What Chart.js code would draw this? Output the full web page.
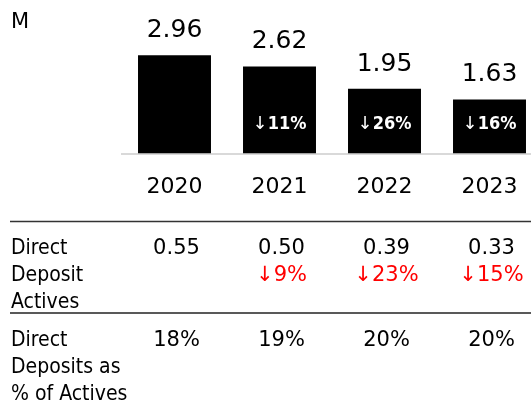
<!DOCTYPE html>
<html>
<head>
<meta charset="utf-8">
<script src="https://cdn.jsdelivr.net/npm/chart.js@4"></script>
<style>
  html, body { margin: 0; padding: 0; background: #fff; overflow: hidden; }
  #wrap { position: relative; width: 545px; height: 401px; }
</style>
</head>
<body>
<div id="wrap"><canvas id="chart"></canvas></div>
<script>
// ---------- DATA ----------
const years = ["2020", "2021", "2022", "2023"];
const actives = [2.96, 2.62, 1.95, 1.63];          // M
const activesDrop = [null, 11, 26, 16];             // % yoy decline
const ddActives = [0.55, 0.50, 0.39, 0.33];
const ddDrop = [null, 9, 23, 15];
const ddShare = [18, 19, 20, 20];

const FONT = '"DejaVu Sans", sans-serif';
const FONT_C = '"DejaVu Sans Condensed", "DejaVu Sans", sans-serif';

// ---------- labels & table ----------
const extras = {
  id: "extras",
  afterDatasetsDraw(chart) {
    const ctx = chart.ctx;
    const x = chart.scales.x;
    const bottom = chart.chartArea.bottom;
    const bars = chart.getDatasetMeta(0).data;
    ctx.save();

    // unit
    ctx.fillStyle = "#000";
    ctx.textAlign = "left";
    ctx.textBaseline = "alphabetic";
    ctx.font = "21px " + FONT;
    ctx.fillText("M", 11, 28);

    // values above bars, drops inside
    bars.forEach((b, i) => {
      ctx.fillStyle = "#000";
      ctx.textAlign = "center";
      ctx.font = "25px " + FONT;
      ctx.fillText(actives[i].toFixed(2), b.x, b.y - 18);

      if (activesDrop[i] != null) {
        const arrowFont = "18px " + FONT;
        const numFont = "bold 18px " + FONT_C;
        const num = activesDrop[i] + "%";
        ctx.font = arrowFont;
        const wa = ctx.measureText("↓").width;
        ctx.font = numFont;
        const wn = ctx.measureText(num).width;
        let sx = b.x - (wa + wn) / 2;
        ctx.fillStyle = "#fff";
        ctx.textAlign = "left";
        ctx.font = arrowFont;
        ctx.fillText("↓", sx, bottom - 25);
        ctx.font = numFont;
        ctx.fillText(num, sx + wa, bottom - 25);
      }
    });

    // separator lines
    ctx.strokeStyle = "#333";
    ctx.lineWidth = 1.5;
    ctx.beginPath(); ctx.moveTo(10, 221.5); ctx.lineTo(531, 221.5); ctx.stroke();
    ctx.strokeStyle = "#595959";
    ctx.lineWidth = 2;
    ctx.beginPath(); ctx.moveTo(10, 313); ctx.lineTo(531, 313); ctx.stroke();

    // row labels
    ctx.fillStyle = "#000";
    ctx.textAlign = "left";
    ctx.font = "21px " + FONT_C;
    ["Direct", "Deposit", "Actives"].forEach((t, k) => ctx.fillText(t, 11, 254 + k * 27));
    ["Direct", "Deposits as", "% of Actives"].forEach((t, k) => ctx.fillText(t, 11, 346 + k * 27));

    // row values
    ctx.textAlign = "center";
    ctx.font = "21px " + FONT;
    years.forEach((y, i) => {
      const cx = x.getPixelForValue(i) + 2;
      ctx.fillStyle = "#000";
      ctx.fillText(ddActives[i].toFixed(2), cx, 254);
      ctx.fillText(ddShare[i] + "%", cx, 346);
      if (ddDrop[i] != null) {
        ctx.fillStyle = "#ff0000";
        ctx.fillText("↓" + ddDrop[i] + "%", cx, 281);
      }
    });
    ctx.restore();
  }
};

new Chart(document.getElementById("chart"), {
  type: "bar",
  data: {
    labels: years,
    datasets: [{
      data: actives,
      backgroundColor: "#000",
      borderWidth: 0,
      categoryPercentage: 1,
      barPercentage: 0.695
    }]
  },
  options: {
    responsive: true,
    maintainAspectRatio: false,
    animation: false,
    events: [],
    layout: { padding: { left: 122, right: 3, top: 0, bottom: 181 } },
    plugins: { legend: { display: false }, tooltip: { enabled: false } },
    scales: {
      x: {
        grid: { display: false, drawTicks: false },
        border: { display: true, color: "#d9d9d9", width: 2 },
        ticks: { color: "#000", font: { family: FONT, size: 22 }, padding: 20 }
      },
      y: { display: false, min: 0, max: 4.62 }
    }
  },
  plugins: [extras]
});
</script>
</body>
</html>
